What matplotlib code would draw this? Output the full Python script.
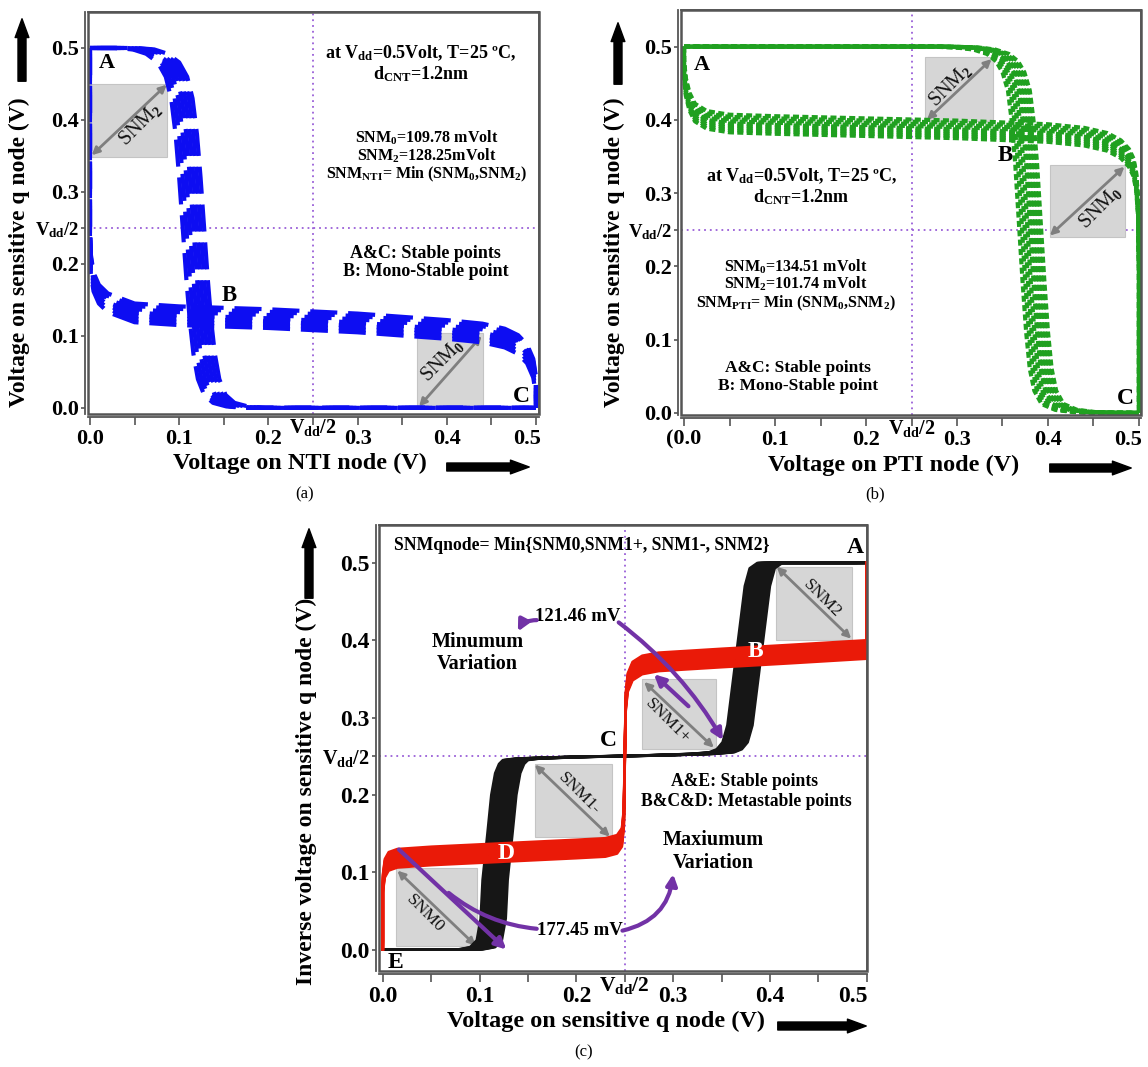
import numpy as np
import matplotlib
matplotlib.use("Agg")
import matplotlib.pyplot as plt
from matplotlib.patches import Rectangle, FancyArrowPatch
from matplotlib.transforms import ScaledTranslation

# ---------------- data ----------------
# (a) NTI butterfly: VTC (y vs x) and inverse VTC (x vs y), nominal points
nti_vtc_x = [0.0, 0.04, 0.06, 0.075, 0.088, 0.097, 0.103, 0.108, 0.112, 0.116, 0.12, 0.124,
             0.128, 0.133, 0.14, 0.15, 0.165, 0.185, 0.22, 0.3, 0.5]
nti_vtc_y = [0.5, 0.5, 0.498, 0.492, 0.48, 0.46, 0.43, 0.38, 0.32, 0.25, 0.18, 0.12,
             0.075, 0.04, 0.018, 0.007, 0.002, 0.0, 0.0, 0.0, 0.0]
nti_inv_x = [0.0, 0.0, 0.001, 0.004, 0.01, 0.02, 0.05, 0.1, 0.2, 0.3, 0.4, 0.44, 0.465,
             0.48, 0.49, 0.497, 0.5, 0.5]
nti_inv_y = [0.5, 0.24, 0.2, 0.175, 0.158, 0.146, 0.132, 0.128, 0.124, 0.118, 0.109, 0.104,
             0.097, 0.088, 0.075, 0.055, 0.03, 0.0]
nti_mc_dx = [-0.012, -0.008, -0.004, 0.0, 0.004, 0.008, 0.012]
nti_mc_dy = [-0.013, -0.0085, -0.004, 0.0005, 0.005, 0.0095, 0.013]

# (b) PTI butterfly
pti_vtc_x = [0.0, 0.1, 0.2, 0.28, 0.31, 0.33, 0.345, 0.355, 0.362, 0.368, 0.372, 0.376,
             0.38, 0.384, 0.388, 0.392, 0.397, 0.405, 0.42, 0.44, 0.47, 0.5]
pti_vtc_y = [0.5, 0.5, 0.5, 0.5, 0.499, 0.496, 0.49, 0.48, 0.465, 0.44, 0.4, 0.34,
             0.26, 0.18, 0.11, 0.06, 0.03, 0.012, 0.004, 0.001, 0.0, 0.0]
pti_inv_x = [0.0, 0.0, 0.002, 0.006, 0.012, 0.025, 0.05, 0.1, 0.2, 0.3, 0.4, 0.44, 0.465,
             0.48, 0.489, 0.494, 0.497, 0.499, 0.5, 0.5]
pti_inv_y = [0.5, 0.47, 0.445, 0.425, 0.41, 0.4, 0.395, 0.393, 0.39, 0.387, 0.382, 0.377,
             0.37, 0.36, 0.348, 0.335, 0.315, 0.28, 0.2, 0.0]
pti_mc_dx = [-0.012, -0.009, -0.006, -0.003, 0.0, 0.003, 0.006, 0.009, 0.012]
pti_mc_dy = [-0.012, -0.009, -0.006, -0.003, 0.0, 0.003, 0.006, 0.009, 0.012]

# (c) ternary q-node butterfly
q_blk_x = [0.0, 0.09, 0.103, 0.11, 0.114, 0.116, 0.121, 0.125, 0.129, 0.133, 0.137, 0.15,
           0.2, 0.28, 0.33, 0.35, 0.358, 0.364, 0.369, 0.373, 0.378, 0.383, 0.387, 0.392,
           0.4, 0.5]
q_blk_y = [0.0, 0.0, 0.003, 0.012, 0.04, 0.09, 0.15, 0.2, 0.228, 0.24, 0.245, 0.247,
           0.249, 0.251, 0.253, 0.255, 0.259, 0.268, 0.29, 0.33, 0.38, 0.43, 0.47, 0.493,
           0.5, 0.5]
q_red_x = [0.0, 0.0, 0.002, 0.006, 0.015, 0.05, 0.1, 0.15, 0.2, 0.23, 0.242, 0.247, 0.249,
           0.25, 0.251, 0.253, 0.258, 0.268, 0.285, 0.35, 0.42, 0.5, 0.5]
q_red_y = [0.0, 0.085, 0.105, 0.114, 0.118, 0.121, 0.124, 0.127, 0.13, 0.132, 0.136, 0.145,
           0.17, 0.25, 0.32, 0.345, 0.36, 0.368, 0.372, 0.377, 0.382, 0.388, 0.5]
q_blk_dx = [-0.013, -0.0115, -0.01, -0.0085, -0.007, -0.0055, -0.004, -0.0025, -0.001,
            0.0, 0.001, 0.0025, 0.004, 0.0055, 0.007, 0.0085, 0.01, 0.0115, 0.013]
q_red_dy = [-0.012, -0.010, -0.008, -0.006, -0.004, -0.002, 0.0, 0.001, 0.002, 0.004,
            0.006, 0.008, 0.010, 0.012]

tick_vals = [0.0, 0.05, 0.1, 0.15, 0.2, 0.25, 0.3, 0.35, 0.4, 0.45, 0.5]
tick_text = ['0.0', '', '0.1', '', '0.2', '', '0.3', '', '0.4', '', '0.5']
tick_text_b = ['(0.0', '', '0.1', '', '0.2', '', '0.3', '', '0.4', '', '0.5']
ytick_vals = [0.0, 0.1, 0.2, 0.25, 0.3, 0.4, 0.5]
VDD2 = r'V$_{\mathbf{dd}}$/2'
ytick_text = ['0.0', '0.1', '0.2', VDD2, '0.3', '0.4', '0.5']

# ---------------- style ----------------
plt.rcParams['font.family'] = ['Liberation Serif', 'DejaVu Serif']
plt.rcParams['font.weight'] = 'bold'
plt.rcParams['mathtext.fontset'] = 'custom'
plt.rcParams['mathtext.rm'] = 'Liberation Serif:bold'
plt.rcParams['mathtext.bf'] = 'Liberation Serif:bold'
plt.rcParams['mathtext.sf'] = 'Liberation Serif'
plt.rcParams['mathtext.it'] = 'Liberation Serif:bold:italic'

W, H = 1148, 1067
fig = plt.figure(figsize=(W / 100, H / 100), dpi=100)

PURPLE_DOT = '#9a5fd8'
FRAME = '#555555'


def make_ax(l, t, r, b, xlim, ylim, fs, last_shift, xlabels):
    ax = fig.add_axes([l / W, 1 - b / H, (r - l) / W, (b - t) / H])
    ax.set_xlim(*xlim)
    ax.set_ylim(*ylim)
    for s in ax.spines.values():
        s.set_color(FRAME)
        s.set_linewidth(1.3)
    ax.spines['left'].set_position(('outward', 2.5))
    ax.spines['bottom'].set_position(('outward', 2.5))
    ax.add_patch(Rectangle((0, 0), 1, 1, transform=ax.transAxes, fill=False,
                           ec=FRAME, lw=1.8, clip_on=False, zorder=6))
    ax.set_xticks(tick_vals)
    ax.set_xticklabels(xlabels)
    ax.set_yticks(ytick_vals)
    ax.set_yticklabels(ytick_text)
    ax.tick_params(axis='x', direction='out', length=6, width=1.2, color=FRAME,
                   labelsize=fs, pad=2)
    ax.tick_params(axis='y', direction='out', length=3, width=1.2, color=FRAME,
                   labelsize=fs, pad=1)
    ax.tick_params(top=False, right=False)
    lab = ax.get_xticklabels()[-1]
    lab.set_transform(lab.get_transform() + ScaledTranslation(-last_shift / 100, 0,
                                                              fig.dpi_scale_trans))
    ax.get_yticklabels()[3].set_fontsize(fs - 2.5)
    ax.axvline(0.25, color=PURPLE_DOT, lw=1.3, ls=(0, (1, 2.2)), zorder=1)
    ax.axhline(0.25, color=PURPLE_DOT, lw=1.3, ls=(0, (1, 2.2)), zorder=1)
    ax.text(0.25, -0.008, VDD2, transform=ax.get_xaxis_transform(), ha='center',
            va='top', fontsize=fs - 1.5)
    return ax


def fig_arrow(x0, y0, x1, y1):
    fig.patches.append(FancyArrowPatch(
        (x0 / W, 1 - y0 / H), (x1 / W, 1 - y1 / H), transform=fig.transFigure,
        arrowstyle='simple,head_length=0.75,head_width=0.55,tail_width=0.32',
        mutation_scale=18, color='black', capstyle='round', joinstyle='round'))


def snm_box(ax, x0, y0, x1, y1, ax0, ay0, ax1, ay1, label, tx, ty, rot, fs):
    ax.add_patch(Rectangle((x0, y0), x1 - x0, y1 - y0, fc='#d6d6d6', ec='#c4c4c4',
                           lw=0.8, zorder=1.5))
    ax.annotate('', xy=(ax1, ay1), xytext=(ax0, ay0),
                arrowprops=dict(arrowstyle='<|-|>', color='#7f7f7f', lw=2,
                                mutation_scale=11, shrinkA=0, shrinkB=0), zorder=2)
    ax.text(tx, ty, label, fontsize=fs, fontweight='normal', rotation=rot,
            ha='center', va='center', zorder=2.5, color='#111111')


# ---------------- panel (a) ----------------
axa = make_ax(88, 12, 539, 414, (-0.0022, 0.5034), (-0.0085, 0.55), 16, 9, tick_text)
BLUE = '#0d0df2'
for d in nti_mc_dx:
    axa.plot(np.clip(np.array(nti_vtc_x) + d, 0, 0.5), nti_vtc_y, color=BLUE, lw=3,
             ls=(0, (6.5, 2.6)), zorder=3)
for d in nti_mc_dy:
    axa.plot(nti_inv_x, np.clip(np.array(nti_inv_y) + d, 0, 0.5), color=BLUE, lw=3,
             ls=(0, (6.5, 2.6)), zorder=3)
snm_box(axa, 0.0, 0.349, 0.086, 0.45, 0.002, 0.351, 0.086, 0.449,
        r'SNM$_{\mathsf{2}}$', 0.056, 0.394, 45, 14.5)
snm_box(axa, 0.367, 0.0, 0.441, 0.104, 0.369, 0.002, 0.439, 0.1,
        r'SNM$_{\mathsf{0}}$', 0.395, 0.066, 45, 14.5)
fsa = 11.5
axa.text(0.371, 0.4926, r'at V$_{\mathbf{dd}}$=0.5Volt, T=25 ºC,', ha='center', va='center', fontsize=13)
axa.text(0.371, 0.464, r'd$_{\mathbf{CNT}}$=1.2nm', ha='center', va='center', fontsize=13)
axa.text(0.377, 0.3754, r'SNM$_{\mathbf{0}}$=109.78 mVolt', ha='center', va='center', fontsize=fsa)
axa.text(0.377, 0.350, r'SNM$_{\mathbf{2}}$=128.25mVolt', ha='center', va='center', fontsize=fsa)
axa.text(0.377, 0.3245, r'SNM$_{\mathbf{NTI}}$= Min (SNM$_{\mathbf{0}}$,SNM$_{\mathbf{2}}$)',
         ha='center', va='center', fontsize=fsa)
axa.text(0.376, 0.214, 'A&C: Stable points', ha='center', va='center', fontsize=13)
axa.text(0.376, 0.189, 'B: Mono-Stable point', ha='center', va='center', fontsize=13)
axa.text(0.0185, 0.4796, 'A', ha='center', va='center', fontsize=16)
axa.text(0.156, 0.1556, 'B', ha='center', va='center', fontsize=16.5)
axa.text(0.4837, 0.0157, 'C', ha='center', va='center', fontsize=17)

# ---------------- panel (b) ----------------
axb = make_ax(681, 10, 1141, 415, (-0.0033, 0.5022), (-0.003, 0.55), 16, 11, tick_text_b)
GREEN = '#20a020'
for d in pti_mc_dx:
    axb.plot(np.clip(np.array(pti_vtc_x) + d, 0, 0.5), pti_vtc_y, color=GREEN, lw=3,
             ls=(0, (1.45, 0.8)), zorder=3)
for d in pti_mc_dy:
    axb.plot(pti_inv_x, np.clip(np.array(pti_inv_y) + d, 0, 0.5), color=GREEN, lw=3,
             ls=(0, (1.45, 0.8)), zorder=3)
snm_box(axb, 0.265, 0.399, 0.3395, 0.4855, 0.267, 0.40, 0.338, 0.483,
        r'SNM$_{\mathsf{2}}$', 0.2925, 0.447, 45, 14.5)
snm_box(axb, 0.402, 0.24, 0.4843, 0.338, 0.402, 0.242, 0.484, 0.336,
        r'SNM$_{\mathsf{0}}$', 0.457, 0.281, 45, 14.5)
axb.text(0.129, 0.3224, r'at V$_{\mathbf{dd}}$=0.5Volt, T=25 ºC,', ha='center', va='center', fontsize=13)
axb.text(0.129, 0.2943, r'd$_{\mathbf{CNT}}$=1.2nm', ha='center', va='center', fontsize=13)
axb.text(0.123, 0.1996, r'SNM$_{\mathbf{0}}$=134.51 mVolt', ha='center', va='center', fontsize=fsa)
axb.text(0.123, 0.1756, r'SNM$_{\mathbf{2}}$=101.74 mVolt', ha='center', va='center', fontsize=fsa)
axb.text(0.123, 0.1497, r'SNM$_{\mathbf{PTI}}$= Min (SNM$_{\mathbf{0}}$,SNM$_{\mathbf{2}}$)',
         ha='center', va='center', fontsize=fsa)
axb.text(0.125, 0.0618, 'A&C: Stable points', ha='center', va='center', fontsize=12.5)
axb.text(0.125, 0.0372, 'B: Mono-Stable point', ha='center', va='center', fontsize=12.5)
axb.text(0.0196, 0.4748, 'A', ha='center', va='center', fontsize=16)
axb.text(0.3527, 0.352, 'B', ha='center', va='center', fontsize=16.5)
axb.text(0.4855, 0.02, 'C', ha='center', va='center', fontsize=17)

# ---------------- panel (c) ----------------
axc = make_ax(379, 525, 867, 971, (-0.004, 0.5003), (-0.0278, 0.549), 17, 14, tick_text)
BLACK = '#161616'
RED = '#ea1a08'
for d in q_blk_dx:
    axc.plot(np.clip(np.array(q_blk_x) + d, 0, 0.5), q_blk_y, color=BLACK, lw=1.8,
             zorder=3)
for d in q_red_dy:
    axc.plot(q_red_x, np.clip(np.array(q_red_y) + d, 0, 0.5), color=RED, lw=1.8,
             zorder=3.2)
snm_box(axc, 0.406, 0.4, 0.485, 0.495, 0.407, 0.495, 0.484, 0.402, 'SNM2', 0.454, 0.454, -45, 12.5)
snm_box(axc, 0.268, 0.259, 0.344, 0.35, 0.27, 0.346, 0.342, 0.261, 'SNM1+', 0.294, 0.295, -45, 12.5)
snm_box(axc, 0.157, 0.146, 0.237, 0.24, 0.157, 0.239, 0.2345, 0.146, 'SNM1-', 0.203, 0.202, -45, 12.5)
snm_box(axc, 0.014, 0.005, 0.097, 0.105, 0.015, 0.102, 0.096, 0.005, 'SNM0', 0.044, 0.046, -45, 12.5)
fsc = 12.7
axc.text(0.0115, 0.522, 'SNMqnode= Min{SNM0,SNM1+, SNM1-, SNM2}', ha='left', va='center', fontsize=fsc)
axc.text(0.488, 0.5195, 'A', ha='center', va='center', fontsize=17)
axc.text(0.385, 0.385, 'B', ha='center', va='center', fontsize=17, color='white', zorder=5)
axc.text(0.2326, 0.2707, 'C', ha='center', va='center', fontsize=17)
axc.text(0.1276, 0.1244, 'D', ha='center', va='center', fontsize=17, color='white', zorder=5)
axc.text(0.0127, -0.017, 'E', ha='center', va='center', fontsize=17)
axc.text(0.2017, 0.4307, '121.46 mV', ha='center', va='center', fontsize=13.5)
axc.text(0.0979, 0.3976, 'Minumum', ha='center', va='center', fontsize=14.5)
axc.text(0.0979, 0.3693, 'Variation', ha='center', va='center', fontsize=14.5)
axc.text(0.3732, 0.2171, 'A&E: Stable points', ha='center', va='center', fontsize=fsc)
axc.text(0.3752, 0.1912, 'B&C&D: Metastable points', ha='center', va='center', fontsize=fsc)
axc.text(0.3415, 0.1415, 'Maxiumum', ha='center', va='center', fontsize=14.5)
axc.text(0.3415, 0.1122, 'Variation', ha='center', va='center', fontsize=14.5)
axc.text(0.2036, 0.0244, '177.45 mV', ha='center', va='center', fontsize=13.5)

PURPLE = '#7232a6'
pa = dict(color=PURPLE, lw=3, mutation_scale=16, shrinkA=0, shrinkB=0)
axc.annotate('', xy=(0.1395, 0.4112), xytext=(0.159, 0.426),
             arrowprops=dict(arrowstyle='-|>', connectionstyle='arc3,rad=0.3', **pa), zorder=4)
axc.annotate('', xy=(0.3514, 0.2707), xytext=(0.2437, 0.423),
             arrowprops=dict(arrowstyle='-|>', connectionstyle='arc3,rad=-0.1', **pa), zorder=4)
axc.annotate('', xy=(0.2801, 0.356), xytext=(0.3158, 0.3146),
             arrowprops=dict(arrowstyle='-|>', **pa), zorder=4)
axc.annotate('', xy=(0.1276, 0.0), xytext=(0.0166, 0.1293),
             arrowprops=dict(arrowstyle='-|>', **pa), zorder=4)
axc.annotate('', xy=(0.068, 0.0732), xytext=(0.159, 0.0268),
             arrowprops=dict(arrowstyle='-', connectionstyle='arc3,rad=-0.15', **pa), zorder=4)
axc.annotate('', xy=(0.30, 0.0976), xytext=(0.2476, 0.0244),
             arrowprops=dict(arrowstyle='-|>', connectionstyle='arc3,rad=0.35', **pa), zorder=4)

# ---------------- axis titles, arrows, captions ----------------
fig.text(300 / W, 1 - 463 / H, 'Voltage on NTI node (V)', ha='center', va='center', fontsize=17.5)
fig.text(19 / W, 1 - 252 / H, 'Voltage on sensitive q node (V)', ha='center', va='center',
         rotation=90, fontsize=17)
fig.text(894 / W, 1 - 465 / H, 'Voltage on PTI node (V)', ha='center', va='center', fontsize=17.5)
fig.text(614 / W, 1 - 252 / H, 'Voltage on sensitive q node (V)', ha='center', va='center',
         rotation=90, fontsize=17)
fig.text(606 / W, 1 - 1021 / H, 'Voltage on sensitive q node (V)', ha='center', va='center',
         fontsize=17.5)
fig.text(306 / W, 1 - 791 / H, 'Inverse voltage on sensitive q node (V)', ha='center',
         va='center', rotation=90, fontsize=17)
fig.text(305 / W, 1 - 494 / H, '(a)', ha='center', va='center', fontsize=12, fontweight='normal')
fig.text(875 / W, 1 - 494 / H, '(b)', ha='center', va='center', fontsize=12, fontweight='normal')
fig.text(584 / W, 1 - 1052 / H, '(c)', ha='center', va='center', fontsize=12, fontweight='normal')

fig_arrow(22, 84, 22, 16)
fig_arrow(444, 467, 532, 467)
fig_arrow(618, 87, 618, 20)
fig_arrow(1047, 468, 1134, 468)
fig_arrow(309, 601, 309, 526)
fig_arrow(775, 1026, 869, 1026)

fig.savefig('out.png', dpi=100)
